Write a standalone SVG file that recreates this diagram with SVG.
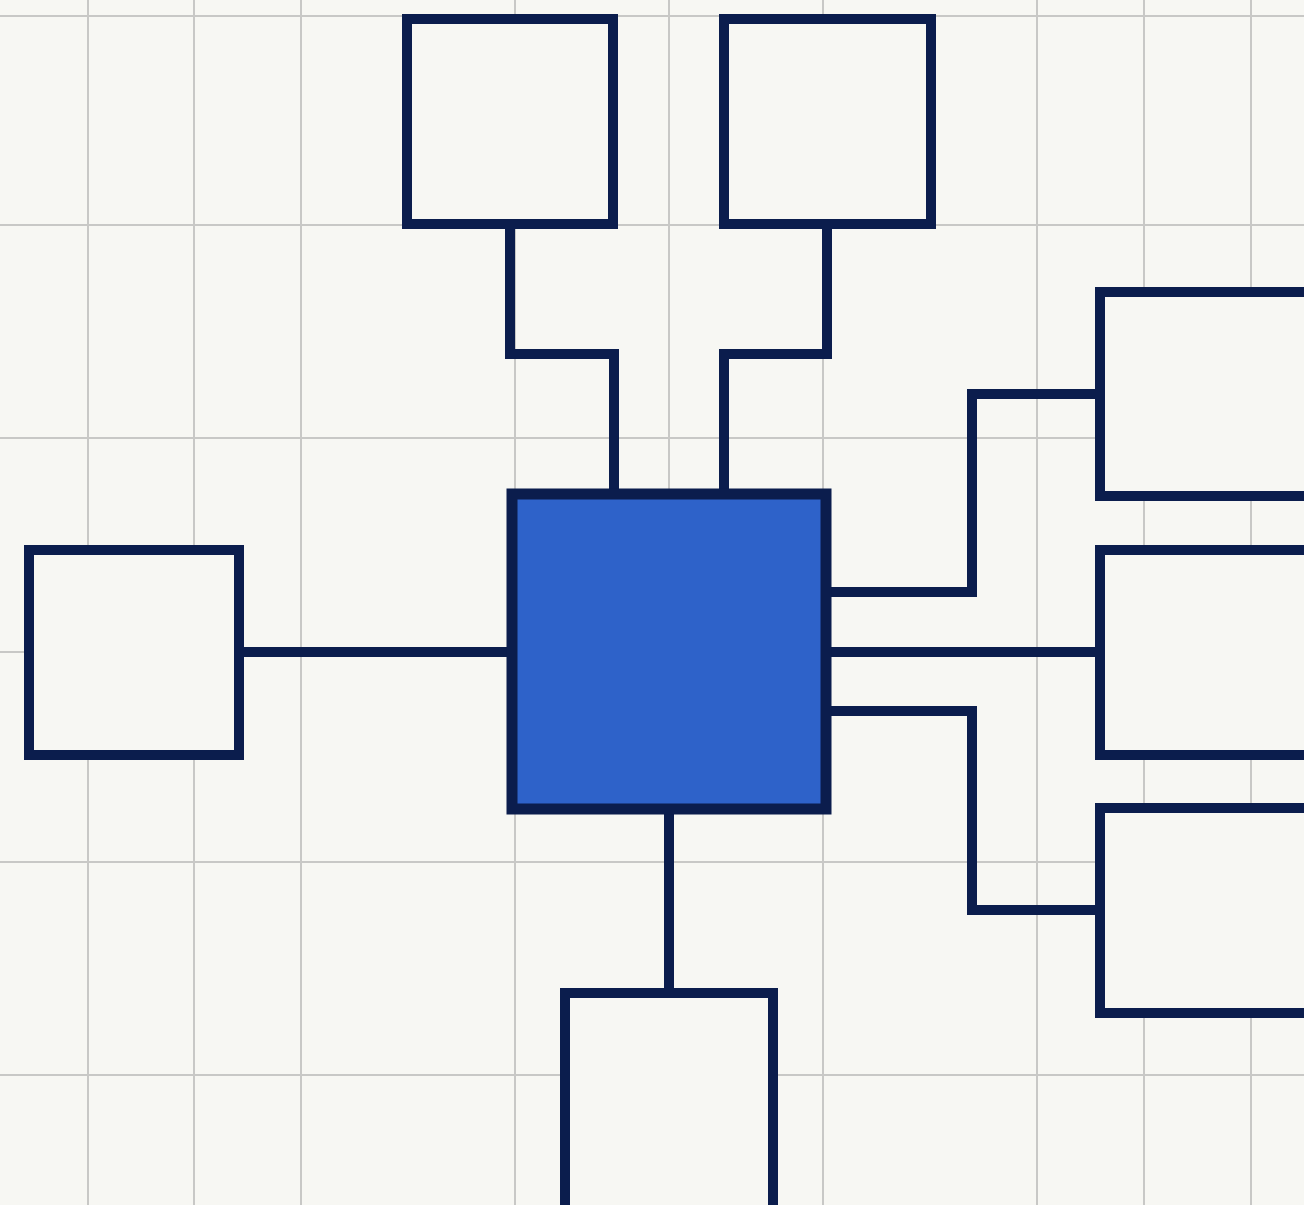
<svg xmlns="http://www.w3.org/2000/svg" width="1304" height="1205" viewBox="0 0 1304 1205">
  <style>
    .grid line { stroke: #c8c8c6; stroke-width: 2; }
    .node { fill: #f7f7f3; stroke: #0b1d4d; stroke-width: 10; }
    .hub { fill: #2e62c9; stroke: #0b1d4d; stroke-width: 11; }
    .conn { fill: none; stroke: #0b1d4d; stroke-width: 10; stroke-linejoin: miter; stroke-linecap: butt; }
  </style>
  <rect x="0" y="0" width="1304" height="1205" fill="#f7f7f3"/>
  <g class="grid" id="grid">
    <line x1="88" y1="0" x2="88" y2="1205"/>
    <line x1="194" y1="0" x2="194" y2="1205"/>
    <line x1="301" y1="0" x2="301" y2="1205"/>
    <line x1="515" y1="0" x2="515" y2="1205"/>
    <line x1="669" y1="0" x2="669" y2="1205"/>
    <line x1="823" y1="0" x2="823" y2="1205"/>
    <line x1="1037" y1="0" x2="1037" y2="1205"/>
    <line x1="1144" y1="0" x2="1144" y2="1205"/>
    <line x1="1251" y1="0" x2="1251" y2="1205"/>
    <line x1="0" y1="16" x2="1304" y2="16"/>
    <line x1="0" y1="225" x2="1304" y2="225"/>
    <line x1="0" y1="438" x2="1304" y2="438"/>
    <line x1="0" y1="652" x2="1304" y2="652"/>
    <line x1="0" y1="862" x2="1304" y2="862"/>
    <line x1="0" y1="1075" x2="1304" y2="1075"/>
  </g>
  <g id="connectors">
    <path class="conn" d="M510,224 V354 H614 V494"/>
    <path class="conn" d="M827,224 V354 H724 V494"/>
    <path class="conn" d="M239,652 H512"/>
    <path class="conn" d="M669,809 V993"/>
    <path class="conn" d="M826,592 H972 V394 H1100"/>
    <path class="conn" d="M826,652 H1100"/>
    <path class="conn" d="M826,711 H972 V910 H1100"/>
  </g>
  <g id="node-top-left"><rect class="node" x="407" y="19" width="206" height="205"/></g>
  <g id="node-top-right"><rect class="node" x="724" y="19" width="207" height="205"/></g>
  <g id="node-left"><rect class="node" x="29" y="550" width="210" height="205"/></g>
  <g id="node-right-top"><rect class="node" x="1100" y="292" width="220" height="204"/></g>
  <g id="node-right-middle"><rect class="node" x="1100" y="550" width="220" height="205"/></g>
  <g id="node-right-bottom"><rect class="node" x="1100" y="808" width="220" height="205"/></g>
  <g id="node-bottom"><rect class="node" x="565" y="993" width="208" height="230"/></g>
  <g id="node-center"><rect class="hub" x="512" y="494" width="314" height="315"/></g>
</svg>
